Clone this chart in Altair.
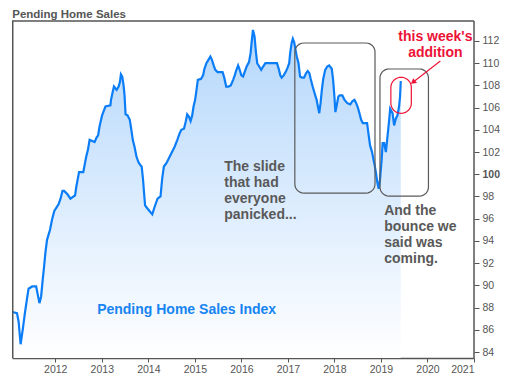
import altair as alt
import numpy as np
import pandas as pd

# ---- data ----
years = [
    2011.079, 2011.177, 2011.213, 2011.255, 2011.304, 2011.347, 2011.389, 2011.426, 2011.504, 2011.589,
    2011.660, 2011.696, 2011.730, 2011.760, 2011.787, 2011.823, 2011.887, 2011.930, 2011.979, 2012.070,
    2012.113, 2012.155, 2012.191, 2012.262, 2012.326, 2012.426, 2012.453, 2012.511, 2012.602, 2012.638,
    2012.666, 2012.702, 2012.738, 2012.845, 2012.887, 2012.921, 2012.951, 2012.985, 2013.006, 2013.043,
    2013.079, 2013.185, 2013.198, 2013.234, 2013.262, 2013.319, 2013.362, 2013.389, 2013.411, 2013.440,
    2013.468, 2013.489, 2013.511, 2013.553, 2013.602, 2013.632, 2013.666, 2013.702, 2013.745, 2013.787,
    2013.830, 2013.857, 2013.887, 2013.909, 2013.930, 2013.985, 2014.043, 2014.085, 2014.138, 2014.198,
    2014.262, 2014.298, 2014.334, 2014.389, 2014.426, 2014.496, 2014.568, 2014.623, 2014.674, 2014.709,
    2014.766, 2014.802, 2014.836, 2014.872, 2014.909, 2014.943, 2014.972, 2015.006, 2015.036, 2015.064,
    2015.134, 2015.177, 2015.206, 2015.249, 2015.291, 2015.334, 2015.368, 2015.404, 2015.440, 2015.489,
    2015.547, 2015.596, 2015.632, 2015.674, 2015.723, 2015.772, 2015.823, 2015.857, 2015.894, 2015.930,
    2015.957, 2016.000, 2016.036, 2016.070, 2016.113, 2016.164, 2016.198, 2016.219, 2016.249, 2016.283,
    2016.313, 2016.340, 2016.383, 2016.426, 2016.468, 2016.517, 2016.696, 2016.766, 2016.809, 2016.836,
    2016.866, 2016.909, 2016.951, 2016.994, 2017.028, 2017.049, 2017.079, 2017.106, 2017.134, 2017.164,
    2017.191, 2017.228, 2017.262, 2017.304, 2017.347, 2017.389, 2017.426, 2017.462, 2017.489, 2017.532,
    2017.574, 2017.617, 2017.645, 2017.674, 2017.702, 2017.730, 2017.760, 2017.802, 2017.845, 2017.887,
    2017.943, 2017.972, 2018.000, 2018.021, 2018.049, 2018.085, 2018.113, 2018.170, 2018.217, 2018.277,
    2018.340, 2018.389, 2018.430, 2018.468, 2018.504, 2018.538, 2018.574, 2018.611, 2018.702, 2018.730,
    2018.766, 2018.809, 2018.836, 2018.866, 2018.894, 2018.921, 2018.951, 2018.979, 2019.015, 2019.036,
    2019.070, 2019.106, 2019.143, 2019.177, 2019.198, 2019.249, 2019.283, 2019.319, 2019.355, 2019.389,
    2019.411, 2019.426,
]
index_values = [
    87.6, 87.5, 86.7, 84.7, 86.1, 87.5, 88.7, 89.7, 89.9, 89.9,
    88.4, 89.0, 90.5, 91.7, 92.9, 94.1, 95.0, 95.9, 96.7, 97.3,
    97.8, 98.5, 98.5, 98.2, 97.8, 98.1, 98.9, 100.2, 100.2, 101.0,
    101.6, 102.2, 103.1, 102.9, 103.3, 103.5, 104.3, 104.9, 105.3, 105.7,
    106.1, 106.2, 106.7, 107.4, 107.9, 107.6, 107.9, 108.3, 109.0, 108.8,
    108.0, 107.1, 105.4, 105.3, 104.9, 104.1, 103.1, 102.5, 101.6, 101.1,
    100.8, 100.7, 99.5, 98.3, 97.2, 96.9, 96.6, 96.4, 97.1, 97.8,
    98.0, 99.6, 100.7, 101.0, 101.3, 101.9, 102.5, 103.1, 103.7, 104.0,
    104.1, 104.7, 105.4, 105.2, 104.8, 105.3, 106.1, 106.7, 107.6, 108.5,
    108.6, 108.9, 109.5, 110.0, 110.3, 110.6, 110.3, 109.8, 109.4, 109.2,
    109.2, 109.2, 108.7, 107.9, 107.9, 108.0, 108.5, 108.9, 109.4, 109.8,
    109.5, 108.9, 108.8, 109.2, 109.7, 110.1, 110.9, 111.8, 113.0, 112.4,
    111.0, 110.0, 109.7, 109.4, 109.7, 110.0, 110.0, 110.0, 109.4, 108.9,
    108.7, 108.9, 109.2, 109.6, 110.0, 110.9, 111.8, 112.2, 111.9, 111.2,
    110.6, 110.0, 108.8, 108.7, 108.7, 109.1, 109.3, 109.1, 108.6, 107.9,
    107.3, 106.7, 106.1, 105.5, 106.4, 107.6, 108.6, 109.4, 109.7, 109.8,
    109.5, 108.5, 107.0, 105.6, 106.2, 107.0, 107.1, 107.1, 106.7, 106.4,
    106.3, 106.6, 106.7, 106.4, 106.0, 105.5, 104.9, 104.6, 104.6, 103.7,
    102.6, 102.0, 101.4, 100.8, 100.1, 99.3, 98.7, 99.5, 101.3, 102.8,
    102.8, 102.0, 103.5, 104.9, 105.9, 105.5, 104.4, 105.0, 105.3, 106.1,
    107.0, 108.4,
]

x_ticks = list(range(2012, 2022))
y_ticks = list(range(84, 113, 2))

title_text = "Pending Home Sales"
series_label = "Pending Home Sales Index"
slide_lines = ["The slide", "that had", "everyone", "panicked..."]
bounce_lines = ["And the", "bounce we", "said was", "coming."]
addition_lines = ["this week's", "addition"]

# ---- layout (data coordinates) ----
X_MIN, X_MAX = 2011.07, 2021.0
Y_MIN, Y_MAX = 83.46, 114.97
FRAME_TOP = 113.8
WIDTH, HEIGHT = 462, 350
PX_X = (X_MAX - X_MIN) / WIDTH     # years per pixel
PX_Y = (Y_MAX - Y_MIN) / HEIGHT    # index points per pixel

GRAY = "#595959"
RED = "#EC1236"
BLUE = "#0B7DF7"
FONT = "Liberation Sans"

df = pd.DataFrame({"year": years, "value": index_values})
df["value2"] = Y_MIN

x_scale = alt.Scale(domain=[X_MIN, X_MAX], nice=False, zero=False)
y_scale = alt.Scale(domain=[Y_MIN, Y_MAX], nice=False, zero=False)

x_enc = alt.X(
    "year:Q", scale=x_scale,
    axis=alt.Axis(values=x_ticks, format="d", title=None, grid=False,
                  domainColor="#555555", domainWidth=1.5, tickColor="#555555",
                  tickSize=4, labelColor="#555555", labelFont=FONT,
                  labelFontSize=10.5, labelPadding=2),
)
y_enc = alt.Y(
    "value:Q", scale=y_scale,
    axis=alt.Axis(orient="right", values=y_ticks, title=None, grid=False,
                  domain=False, tickColor="#555555", tickSize=5, labelPadding=3,
                  labelColor="#555555", labelFont=FONT, labelFontSize=10.5,
                  labelFontWeight={"condition": {"test": "datum.value === 100", "value": "bold"},
                                   "value": "normal"}),
)

area = alt.Chart(df).mark_area(
    color=alt.Gradient(
        gradient="linear",
        stops=[alt.GradientStop(color="#B4D7FB", offset=0),
               alt.GradientStop(color="#D6E9FD", offset=0.45),
               alt.GradientStop(color="#FFFFFF", offset=1)],
        x1=1, x2=1, y1=0, y2=1),
).encode(x=x_enc, y=y_enc, y2="value2:Q")

line = alt.Chart(df).mark_line(color=BLUE, strokeWidth=2.2).encode(x=x_enc, y=y_enc)

# frame
frame_df = pd.DataFrame({
    "year": [X_MIN + 0.016, X_MAX, X_MIN],
    "year2": [X_MIN + 0.016, X_MAX, X_MAX],
    "value": [Y_MIN, Y_MIN, FRAME_TOP],
    "value2": [FRAME_TOP, FRAME_TOP, FRAME_TOP],
})
frame = alt.Chart(frame_df).mark_rule(color="#555555", strokeWidth=1.5).encode(
    x=x_enc, x2="year2:Q", y=y_enc, y2="value2:Q")


# rounded boxes as outlines (no fill)
def rounded_box(name, x1, x2, ytop, ybot, r_px=9, n=8):
    rx, ry = r_px * PX_X, r_px * PX_Y
    corners = [
        (x2 - rx, ytop - ry, 90, 0),
        (x2 - rx, ybot + ry, 0, -90),
        (x1 + rx, ybot + ry, -90, -180),
        (x1 + rx, ytop - ry, 180, 90),
    ]
    xs, ys = [], []
    for cx, cy, a0, a1 in corners:
        t = np.radians(np.linspace(a0, a1, n))
        xs.extend(cx + rx * np.cos(t))
        ys.extend(cy + ry * np.sin(t))
    xs.append(xs[0])
    ys.append(ys[0])
    return pd.DataFrame({"year": xs, "value": ys, "order": range(len(xs)), "box": name})


box_df = pd.concat([
    rounded_box("slide", 2017.149, 2018.872, 111.82, 98.31),
    rounded_box("bounce", 2018.979, 2020.021, 109.48, 98.04),
], ignore_index=True)
boxes = alt.Chart(box_df).mark_line(color="#5a5a5a", strokeWidth=1.2).encode(
    x=x_enc, y=y_enc, order="order:Q", detail="box:N")

oval_df = rounded_box("oval", 2019.213, 2019.653, 108.73, 105.49, r_px=10.2, n=12)
oval = alt.Chart(oval_df).mark_line(color=RED, strokeWidth=1.2).encode(
    x=x_enc, y=y_enc, order="order:Q", detail="box:N")

arrow_df = pd.DataFrame({"year": [2020.277], "year2": [2019.689],
                         "value": [110.2], "value2": [108.29]})
arrow = alt.Chart(arrow_df).mark_rule(color=RED, strokeWidth=1.1).encode(
    x=x_enc, x2="year2:Q", y=y_enc, y2="value2:Q")
head_df = pd.DataFrame({"year": [2019.689], "value": [108.29]})
head = alt.Chart(head_df).mark_point(shape="triangle-up", filled=True, size=38,
                                     angle=232, color=RED, opacity=1).encode(
    x=x_enc, y=y_enc)

# texts
addition_df = pd.DataFrame({"year": [2020.17] * 2, "value": [112.39, 110.95],
                            "label": addition_lines})
addition = alt.Chart(addition_df).mark_text(
    font=FONT, fontSize=14, fontWeight="bold", color=RED, align="center",
    baseline="middle").encode(x=x_enc, y=y_enc, text="label:N")

slide_df = pd.DataFrame({"year": [2015.632] * 4, "value": [100.63, 99.19, 97.75, 96.33],
                         "label": slide_lines})
slide = alt.Chart(slide_df).mark_text(
    font=FONT, fontSize=14, fontWeight="bold", color=GRAY, align="left",
    baseline="middle").encode(x=x_enc, y=y_enc, text="label:N")

bounce_df = pd.DataFrame({"year": [2019.07] * 4, "value": [96.69, 95.25, 93.81, 92.37],
                          "label": bounce_lines})
bounce = alt.Chart(bounce_df).mark_text(
    font=FONT, fontSize=14, fontWeight="bold", color=GRAY, align="left",
    baseline="middle").encode(x=x_enc, y=y_enc, text="label:N")

series_df = pd.DataFrame({"year": [2012.9], "value": [87.78], "label": [series_label]})
series_text = alt.Chart(series_df).mark_text(
    font=FONT, fontSize=14, fontWeight="bold", color="#1684F2", align="left",
    baseline="middle").encode(x=x_enc, y=y_enc, text="label:N")

title_df = pd.DataFrame({"year": [2011.075], "value": [114.07], "label": [title_text]})
title = alt.Chart(title_df).mark_text(
    font=FONT, fontSize=11.5, fontWeight="bold", color="#555555", align="left",
    baseline="alphabetic").encode(x=x_enc, y=y_enc, text="label:N")

chart = alt.layer(
    area, line, frame, boxes, oval, arrow, head, addition, slide, bounce,
    series_text, title,
).properties(width=WIDTH, height=HEIGHT, padding=0).configure_view(strokeWidth=0)

chart.save("out.html", embed_options={"renderer": "svg", "actions": False})
